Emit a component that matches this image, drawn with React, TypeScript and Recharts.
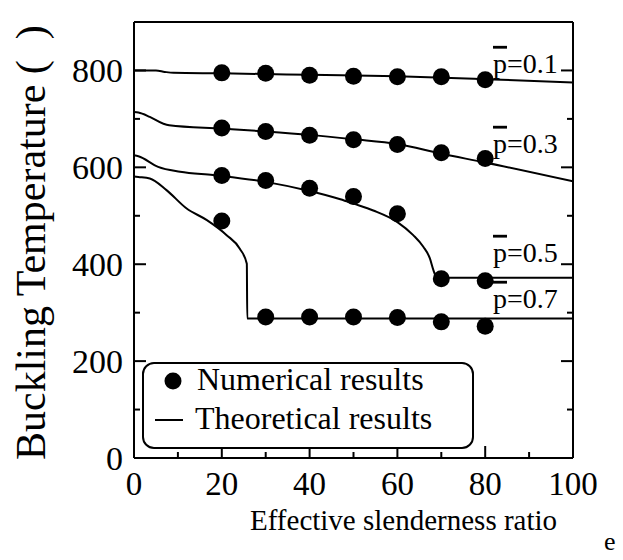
import React from "react";
import {
  ComposedChart,
  Line,
  Scatter,
  XAxis,
  YAxis,
} from "recharts";

// numerical results (dots)
const numX = [20, 30, 40, 50, 60, 70, 80];
const num01 = [795, 794, 790, 788, 787, 787, 781];
const num03 = [681, 674, 666, 657, 647, 630, 618];
const num05 = [583, 573, 557, 540, 504, 370, 366];
const num07 = [489, 291, 291, 291, 290, 281, 272];

// theoretical curves
const th01X = [0, 5, 7, 9, 20, 40, 60, 80, 100];
const th01Y = [800, 800, 797, 795, 794, 791, 788, 782, 775];
const th03X = [0, 1, 3.6, 6.7, 8, 20, 30, 40, 50, 60, 70, 80, 100];
const th03Y = [714, 713, 704, 690, 687, 680, 674, 667, 658, 648, 628, 610, 571];
const th05X = [0, 1, 5.5, 10.5, 18, 20, 30, 40, 47, 50, 54.5, 60, 63.6, 65.9, 67.4, 68.2, 69, 100];
const th05Y = [625, 623, 601, 591, 584, 582, 570, 551, 534, 525, 511, 487, 460, 436, 412, 388, 372, 372];
const th07X = [0, 1, 3.6, 7.4, 12, 16.6, 21.1, 24.1, 25.7, 25.8, 100];
const th07Y = [581, 580, 577, 553, 515, 491, 460, 432, 401, 288, 288];

const xTicks = [0, 10, 20, 30, 40, 50, 60, 70, 80, 90, 100];
const yTicks = [0, 100, 200, 300, 400, 500, 600, 700, 800];

const curveLabels = [
  { text: "=0.1", y: 795 },
  { text: "=0.3", y: 630 },
  { text: "=0.5", y: 405 },
  { text: "=0.7", y: 310 },
];

const toPts = (xs: number[], ys: number[]) => xs.map((x, i) => ({ x, y: ys[i] }));

const FONT = "'Liberation Serif', 'Times New Roman', serif";

const BottomTick = (props: any) => {
  const { x, y, payload } = props;
  const major = payload.value % 20 === 0;
  return (
    <g>
      <line x1={x} x2={x} y1={y} y2={y - (major ? 12 : 6)} stroke="#000" strokeWidth={2} />
      {major && (
        <text x={x} y={y + 37} textAnchor="middle" fontSize={33} fill="#000" fontFamily={FONT}>
          {payload.value}
        </text>
      )}
    </g>
  );
};

const TopTick = (props: any) => {
  const { x, y, payload } = props;
  const major = payload.value % 20 === 0;
  return <line x1={x} x2={x} y1={y} y2={y + (major ? 12 : 6)} stroke="#000" strokeWidth={2} />;
};

const LeftTick = (props: any) => {
  const { x, y, payload } = props;
  const major = payload.value % 200 === 0;
  return (
    <g>
      <line x1={x} x2={x + (major ? 12 : 6)} y1={y} y2={y} stroke="#000" strokeWidth={2} />
      {major && (
        <text x={x - 11} y={y + 12} textAnchor="end" fontSize={34} fill="#000" fontFamily={FONT}>
          {payload.value}
        </text>
      )}
    </g>
  );
};

const RightTick = (props: any) => {
  const { x, y, payload } = props;
  const major = payload.value % 200 === 0;
  return <line x1={x} x2={x - (major ? 12 : 6)} y1={y} y2={y} stroke="#000" strokeWidth={2} />;
};

const Dot = (props: any) => <circle cx={props.cx} cy={props.cy} r={8.5} fill="#000" />;

const series = [
  { th: toPts(th01X, th01Y), num: toPts(numX, num01) },
  { th: toPts(th03X, th03Y), num: toPts(numX, num03) },
  { th: toPts(th05X, th05Y), num: toPts(numX, num05) },
  { th: toPts(th07X, th07Y), num: toPts(numX, num07) },
];

// plot box in pixels (used only for overlay text)
const PLOT = { left: 134, right: 573, top: 22, bottom: 458 };
const yPix = (v: number) => PLOT.bottom - ((PLOT.bottom - PLOT.top) * v) / 900;

export default function App() {
  return (
    <div style={{ position: "absolute", left: 0, top: 0, width: 623, height: 560, background: "#fff" }}>
      <ComposedChart
        width={623}
        height={560}
        margin={{ top: 12, right: 40, bottom: 52, left: 34 }}
        style={{ fontFamily: FONT }}
      >
        <XAxis
          xAxisId="bottom"
          type="number"
          dataKey="x"
          domain={[0, 100]}
          ticks={xTicks}
          interval={0}
          height={50}
          tickSize={0}
          tickMargin={0}
          tickLine={false}
          tick={<BottomTick />}
          axisLine={{ stroke: "#000", strokeWidth: 2 }}
          allowDataOverflow
        />
        <XAxis
          xAxisId="top"
          orientation="top"
          type="number"
          domain={[0, 100]}
          ticks={xTicks}
          interval={0}
          height={10}
          tickSize={0}
          tickMargin={0}
          tickLine={false}
          tick={<TopTick />}
          axisLine={{ stroke: "#000", strokeWidth: 2 }}
          allowDataOverflow
        />
        <YAxis
          yAxisId="left"
          type="number"
          dataKey="y"
          domain={[0, 900]}
          ticks={yTicks}
          interval={0}
          width={100}
          tickSize={0}
          tickMargin={0}
          tickLine={false}
          tick={<LeftTick />}
          axisLine={{ stroke: "#000", strokeWidth: 2 }}
          allowDataOverflow
        />
        <YAxis
          yAxisId="right"
          orientation="right"
          type="number"
          domain={[0, 900]}
          ticks={yTicks}
          interval={0}
          width={10}
          tickSize={0}
          tickMargin={0}
          tickLine={false}
          tick={<RightTick />}
          axisLine={{ stroke: "#000", strokeWidth: 2 }}
          allowDataOverflow
        />
        {series.map((s, i) => (
          <Line
            key={"l" + i}
            xAxisId="bottom"
            yAxisId="left"
            data={s.th}
            dataKey="y"
            type="monotone"
            stroke="#000"
            strokeWidth={2}
            dot={false}
            activeDot={false}
            isAnimationActive={false}
          />
        ))}
        {series.map((s, i) => (
          <Scatter
            key={"s" + i}
            xAxisId="bottom"
            yAxisId="left"
            data={s.num}
            dataKey="y"
            shape={<Dot />}
            isAnimationActive={false}
          />
        ))}
      </ComposedChart>

      <svg
        width={623}
        height={560}
        style={{ position: "absolute", left: 0, top: 0, pointerEvents: "none", fontFamily: FONT }}
      >
        {curveLabels.map((c) => (
          <text key={c.text} x={493} y={yPix(c.y)} fontSize={28} fill="#000">
            <tspan style={{ textDecoration: "overline" }}>p</tspan>
            {c.text}
          </text>
        ))}

        <text
          transform="translate(45,460) rotate(-90)"
          fontSize={42}
          fill="#000"
          style={{ whiteSpace: "pre" }}
        >
          {"Buckling Temperature (  )"}
        </text>

        <text x={250} y={530} fontSize={29} fill="#000">
          Effective slenderness ratio
        </text>
        <text x={604} y={550} fontSize={26} fill="#000">
          e
        </text>

        <rect x={143} y={363} width={330} height={85} rx={11} fill="#fff" stroke="#000" strokeWidth={2} />
        <circle cx={173} cy={381} r={8.5} fill="#000" />
        <text x={197} y={390} fontSize={32} fill="#000">
          Numerical results
        </text>
        <line x1={155} x2={183} y1={420} y2={420} stroke="#000" strokeWidth={2} />
        <text x={195} y={429} fontSize={32} fill="#000">
          Theoretical results
        </text>
      </svg>
    </div>
  );
}
